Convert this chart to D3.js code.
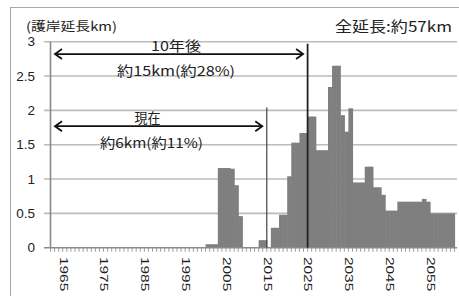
<!DOCTYPE html>
<html><head><meta charset="utf-8">
<script src="https://cdn.jsdelivr.net/npm/d3@7"></script>
<style>html,body{margin:0;padding:0;background:#fff;}svg{display:block;}</style>
</head><body><svg id="c" width="459" height="296"></svg>
<script>
// ---- data ----
const years = d3.range(1963, 2062); // categories 1963..2061
const values = [
  // 1963-1972
  0,0,0,0,0,0,0,0,0,0,
  // 1973-1982
  0,0,0,0,0,0,0,0,0,0,
  // 1983-1992
  0,0,0,0,0,0,0,0,0,0,
  // 1993-2002
  0,0,0,0,0,0,0,0,0.05,0.05,
  // 2003-2012
  0.05,1.16,1.16,1.16,1.15,0.91,0.46,0,0,0,
  // 2013-2022
  0,0.11,0.11,0,0.29,0.29,0.48,0.48,1.04,1.53,
  // 2023-2032
  1.53,1.67,1.67,1.91,1.91,1.42,1.42,1.42,2.34,2.65,
  // 2033-2042
  2.65,1.93,1.69,2.03,0.95,0.95,0.95,1.18,1.18,0.88,
  // 2043-2052
  0.88,0.77,0.54,0.54,0.54,0.67,0.67,0.67,0.67,0.67,
  // 2053-2061
  0.67,0.71,0.67,0.50,0.50,0.50,0.50,0.50,0.50
];
const yTicks = [0, 0.5, 1, 1.5, 2, 2.5, 3];
const yTickLabels = ["0", "0.5", "1", "1.5", "2", "2.5", "3"];
const xTickLabels = ["1965","1975","1985","1995","2005","2015","2025","2035","2045","2055"];
const unitLabel = "(護岸延長km)";
const totalLabel = "全延長:約57km";
// annotations: [label line1, label line2, end year, arrow level, marker line top]
const annotations = [
  {line1: "10年後", line2: "約15km(約28%)", endYear: 2025, level: 2.82, top: 2.97},
  {line1: "現在", line2: "約6km(約11%)", endYear: 2015, level: 1.77, top: 2.04}
];

// ---- chart ----
const svg = d3.select("#c");
const W = 459, H = 296;
const x = d3.scaleBand().domain(years).range([50.5, 454.5]).padding(0);
const y = d3.scaleLinear().domain([0, 3]).range([247.7, 41.7]);
const plotRight = 457;

// outer frame
svg.append("rect").attr("x", 10.5).attr("y", 7.5).attr("width", W + 10).attr("height", H + 10)
  .attr("fill", "none").attr("stroke", "#a8a8a8").attr("stroke-width", 1);

// gridlines (with outside ticks)
svg.append("g").selectAll("line").data(yTicks.filter(d => d > 0)).join("line")
  .attr("x1", 44).attr("x2", plotRight)
  .attr("y1", d => y(d)).attr("y2", d => y(d))
  .attr("stroke", "#bcbcbc").attr("stroke-width", 1.6);

// bars
svg.append("g").selectAll("rect").data(years).join("rect")
  .attr("x", d => x(d)).attr("width", x.bandwidth() + 0.6)
  .attr("y", (d, i) => y(values[i])).attr("height", (d, i) => y(0) - y(values[i]))
  .attr("fill", "#7f7f7f");

// axes lines
svg.append("line").attr("x1", 50.5).attr("x2", 50.5).attr("y1", y(3)).attr("y2", y(0))
  .attr("stroke", "#8a8a8a").attr("stroke-width", 1.6);
svg.append("line").attr("x1", 44).attr("x2", plotRight).attr("y1", y(0)).attr("y2", y(0))
  .attr("stroke", "#8a8a8a").attr("stroke-width", 1.6);
// minor x ticks at every category boundary
svg.append("g").selectAll("line").data(years.concat([2062])).join("line")
  .attr("x1", d => d === 2062 ? x(2061) + x.bandwidth() : x(d))
  .attr("x2", d => d === 2062 ? x(2061) + x.bandwidth() : x(d))
  .attr("y1", y(0)).attr("y2", y(0) + 4)
  .attr("stroke", "#9a9a9a").attr("stroke-width", 1);

// y tick labels
svg.append("g").selectAll("text").data(yTicks).join("text")
  .attr("x", 35).attr("y", d => y(d))
  .attr("text-anchor", "end").attr("dominant-baseline", "central")
  .attr("font-family", "Liberation Sans, Arial, sans-serif").attr("font-size", 13.5)
  .attr("fill", "#222")
  .text((d, i) => yTickLabels[i]);

// x tick labels rotated
svg.append("g").selectAll("text").data(xTickLabels).join("text")
  .attr("transform", d => `translate(${x(+d) + x.bandwidth() / 2 + 2.5},257) rotate(90) scale(1.4,1)`)
  .attr("text-anchor", "start").attr("dominant-baseline", "central")
  .attr("font-family", "Liberation Sans, Arial, sans-serif").attr("font-size", 11)
  .attr("fill", "#222")
  .text(d => d);

// titles
const cjk = "'Noto Sans CJK JP', 'Noto Sans', sans-serif";
svg.append("text").attr("x", 26).attr("y", 30.5).attr("font-family", cjk).attr("font-size", 12.5)
  .attr("fill", "#222").attr("textLength", 91).attr("lengthAdjust", "spacingAndGlyphs").text(unitLabel);
svg.append("text").attr("x", 335).attr("y", 32).attr("font-family", cjk).attr("font-size", 14.5)
  .attr("fill", "#222").attr("textLength", 117).attr("lengthAdjust", "spacingAndGlyphs").text(totalLabel);

// annotations
const ann = svg.append("g");
const leftEnd = x(1963) + 4.5;
const textPos = [
  {cx1: 176, cx2: 176, w1: 50, w2: 118},
  {cx1: 147.5, cx2: 151.5, w1: 26, w2: 103}
];
annotations.forEach((a, i) => {
  const xe = x(a.endYear) + x.bandwidth();
  const ay = y(a.level);
  // marker vertical line
  ann.append("line").attr("x1", xe).attr("x2", xe).attr("y1", y(a.top)).attr("y2", y(0))
    .attr("stroke", i === 0 ? "#222" : "#444").attr("stroke-width", i === 0 ? 1.8 : 1.2);
  const r = xe - 4.5;
  ann.append("line").attr("x1", leftEnd).attr("x2", r).attr("y1", ay).attr("y2", ay)
    .attr("stroke", "#111").attr("stroke-width", 1.8);
  ann.append("path").attr("d", `M${leftEnd + 7},${ay - 5}L${leftEnd},${ay}L${leftEnd + 7},${ay + 5}`)
    .attr("fill", "none").attr("stroke", "#111").attr("stroke-width", 1.8);
  ann.append("path").attr("d", `M${r - 7},${ay - 5}L${r},${ay}L${r - 7},${ay + 5}`)
    .attr("fill", "none").attr("stroke", "#111").attr("stroke-width", 1.8);
  const tp = textPos[i];
  ann.append("text").attr("x", tp.cx1 - tp.w1 / 2).attr("y", ay - 3)
    .attr("font-family", cjk).attr("font-size", 13.5).attr("fill", "#222")
    .attr("textLength", tp.w1).attr("lengthAdjust", "spacingAndGlyphs").text(a.line1);
  ann.append("text").attr("x", tp.cx2 - tp.w2 / 2).attr("y", ay + 22)
    .attr("font-family", cjk).attr("font-size", 13.5).attr("fill", "#222")
    .attr("textLength", tp.w2).attr("lengthAdjust", "spacingAndGlyphs").text(a.line2);
});
</script></body></html>
